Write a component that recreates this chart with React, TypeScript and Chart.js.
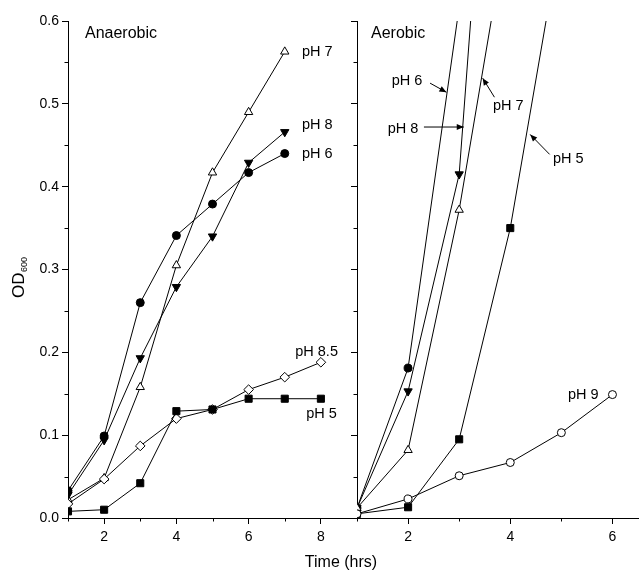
import React, { useEffect, useRef } from "react";
import { Chart, registerables } from "chart.js";

Chart.register(...registerables);

// ---------------- data ----------------
const anaerobicHours = [1, 2, 3, 4, 5, 6, 7, 8];
const anaerobicPH5 = [0.008, 0.01, 0.042, 0.129, 0.131, 0.144, 0.144, 0.144];
const anaerobicPH6 = [0.033, 0.099, 0.26, 0.341, 0.379, 0.417, 0.44];
const anaerobicPH7 = [0.022, 0.048, 0.158, 0.305, 0.417, 0.49, 0.563];
const anaerobicPH8 = [0.028, 0.094, 0.193, 0.279, 0.34, 0.429, 0.466];
const anaerobicPH85 = [0.017, 0.047, 0.087, 0.12, 0.131, 0.155, 0.17, 0.188];

const aerobicHours = [1, 2, 3, 4, 5, 6];
const aerobicPH5 = [0.005, 0.013, 0.095, 0.35, 0.707];
const aerobicPH6 = [0.012, 0.181, 0.617];
const aerobicPH7 = [0.012, 0.082, 0.372, 0.736];
const aerobicPH8 = [0.012, 0.153, 0.415, 1.24];
const aerobicPH9 = [0.005, 0.023, 0.051, 0.067, 0.103, 0.149];

const yTickValues = [0, 0.1, 0.2, 0.3, 0.4, 0.5, 0.6];
const yTickLabels = ["0.0", "0.1", "0.2", "0.3", "0.4", "0.5", "0.6"];
const yMinorValues = [0.05, 0.15, 0.25, 0.35, 0.45, 0.55];
const anaerobicXTicks = [2, 4, 6, 8];
const anaerobicXMinor = [1, 3, 5, 7];
const aerobicXTicks = [2, 4, 6];
const aerobicXMinor = [1, 3, 5];

// series labels (text, anchor in data units)
const anaerobicLabelText = ["pH 7", "pH 8", "pH 6", "pH 8.5", "pH 5"];
const anaerobicLabelX = [7.475, 7.475, 7.475, 7.29, 7.595];
const anaerobicLabelY = [0.563, 0.474, 0.439, 0.2, 0.126];

const aerobicLabelText = ["pH 6", "pH 8", "pH 7", "pH 5", "pH 9"];
const aerobicLabelX = [1.98, 1.9, 3.96, 5.135, 5.43];
const aerobicLabelY = [0.527, 0.47, 0.497, 0.433, 0.149];
// arrows: tail -> head in data units
const aerobicArrowX1 = [2.43, 2.31, 3.69, 4.77];
const aerobicArrowY1 = [0.525, 0.472, 0.508, 0.439];
const aerobicArrowX2 = [2.75, 3.09, 3.46, 4.39];
const aerobicArrowY2 = [0.514, 0.472, 0.531, 0.463];

const FONT = "'Liberation Sans', Arial, Helvetica, sans-serif";

type Series = {
  label: string;
  hours: number[];
  values: number[];
  style: string;
  filled: boolean;
  radius: number;
  rotation?: number;
};

const anaerobicSeries: Series[] = [
  { label: "pH 5", hours: anaerobicHours, values: anaerobicPH5, style: "rect", filled: true, radius: 5 },
  { label: "pH 8.5", hours: anaerobicHours, values: anaerobicPH85, style: "rectRot", filled: false, radius: 4.8 },
  { label: "pH 8", hours: anaerobicHours, values: anaerobicPH8, style: "triangle", filled: true, radius: 4.8, rotation: 180 },
  { label: "pH 7", hours: anaerobicHours, values: anaerobicPH7, style: "triangle", filled: false, radius: 4.8 },
  { label: "pH 6", hours: anaerobicHours, values: anaerobicPH6, style: "circle", filled: true, radius: 4 },
];

const aerobicSeries: Series[] = [
  { label: "pH 9", hours: aerobicHours, values: aerobicPH9, style: "circle", filled: false, radius: 4 },
  { label: "pH 5", hours: aerobicHours, values: aerobicPH5, style: "rect", filled: true, radius: 5 },
  { label: "pH 7", hours: aerobicHours, values: aerobicPH7, style: "triangle", filled: false, radius: 4.8 },
  { label: "pH 8", hours: aerobicHours, values: aerobicPH8, style: "triangle", filled: true, radius: 4.8, rotation: 180 },
  { label: "pH 6", hours: aerobicHours, values: aerobicPH6, style: "circle", filled: true, radius: 4 },
];

function toDatasets(series: Series[]) {
  return series.map((s) => ({
    label: s.label,
    data: s.values.map((v, i) => ({ x: s.hours[i], y: v })),
    borderColor: "#000",
    borderWidth: 1,
    pointStyle: s.style,
    pointRadius: s.radius,
    pointRotation: s.rotation || 0,
    pointBackgroundColor: s.filled ? "#000" : "#fff",
    pointBorderColor: "#000",
    pointBorderWidth: 1,
    tension: 0,
    fill: false,
  }));
}

function drawArrow(ctx: CanvasRenderingContext2D, x1: number, y1: number, x2: number, y2: number) {
  ctx.beginPath();
  ctx.moveTo(x1, y1);
  ctx.lineTo(x2, y2);
  ctx.stroke();
  const ang = Math.atan2(y2 - y1, x2 - x1);
  const L = 7;
  const W = 3;
  const bx = x2 - L * Math.cos(ang);
  const by = y2 - L * Math.sin(ang);
  ctx.beginPath();
  ctx.moveTo(x2, y2);
  ctx.lineTo(bx + W * Math.sin(ang), by - W * Math.cos(ang));
  ctx.lineTo(bx - W * Math.sin(ang), by + W * Math.cos(ang));
  ctx.closePath();
  ctx.fill();
}

type PanelOpts = {
  series: Series[];
  xMin: number;
  xMax: number;
  xTicks: number[];
  xMinor: number[];
  yAxisWidth: number;
  showYLabels: boolean;
  paddingRight: number;
  labelText: string[];
  labelX: number[];
  labelY: number[];
  labelAlign: CanvasTextAlign;
  title: string;
  titleX: number;
  arrows?: { x1: number[]; y1: number[]; x2: number[]; y2: number[] };
  extra?: (ctx: CanvasRenderingContext2D, chart: any) => void;
};

function buildConfig(o: PanelOpts): any {
  const decorPlugin = {
    id: "decor",
    afterDraw(chart: any) {
      const ctx: CanvasRenderingContext2D = chart.ctx;
      const xs = chart.scales.x;
      const ys = chart.scales.y;
      ctx.save();
      ctx.strokeStyle = "#000";
      ctx.fillStyle = "#000";
      ctx.lineWidth = 1;
      // minor ticks
      ctx.beginPath();
      for (const v of o.xMinor) {
        const px = Math.round(xs.getPixelForValue(v)) + 0.5;
        ctx.moveTo(px, ys.bottom);
        ctx.lineTo(px, ys.bottom + 3.5);
      }
      for (const v of yMinorValues) {
        const py = Math.round(ys.getPixelForValue(v)) + 0.5;
        ctx.moveTo(xs.left, py);
        ctx.lineTo(xs.left - 3.5, py);
      }
      ctx.stroke();
      // title
      ctx.font = `16px ${FONT}`;
      ctx.textAlign = "left";
      ctx.textBaseline = "middle";
      ctx.fillText(o.title, xs.getPixelForValue(o.titleX), ys.getPixelForValue(0.585));
      // series labels
      ctx.font = `14.5px ${FONT}`;
      ctx.textAlign = o.labelAlign;
      for (let i = 0; i < o.labelText.length; i++) {
        ctx.fillText(o.labelText[i], xs.getPixelForValue(o.labelX[i]), ys.getPixelForValue(o.labelY[i]));
      }
      if (o.arrows) {
        const a = o.arrows;
        for (let i = 0; i < a.x1.length; i++) {
          drawArrow(
            ctx,
            xs.getPixelForValue(a.x1[i]),
            ys.getPixelForValue(a.y1[i]),
            xs.getPixelForValue(a.x2[i]),
            ys.getPixelForValue(a.y2[i])
          );
        }
      }
      if (o.extra) o.extra(ctx, chart);
      ctx.restore();
    },
  };

  return {
    type: "line",
    data: { datasets: toDatasets(o.series) },
    options: {
      responsive: false,
      animation: false,
      events: [],
      layout: { padding: { top: 21, right: o.paddingRight, bottom: 0, left: 0 } },
      plugins: { legend: { display: false }, tooltip: { enabled: false } },
      scales: {
        x: {
          type: "linear",
          min: o.xMin,
          max: o.xMax,
          afterBuildTicks: (s: any) => {
            s.ticks = o.xTicks.map((v) => ({ value: v }));
          },
          afterFit: (s: any) => {
            s.height = 53;
          },
          ticks: {
            color: "#000",
            font: { family: FONT, size: 14 },
            padding: 5,
            maxRotation: 0,
            autoSkip: false,
            callback: (v: any) => String(v),
          },
          grid: { drawOnChartArea: false, drawTicks: true, tickLength: 6, color: "#000", tickColor: "#000" },
          border: { display: true, color: "#000", width: 1 },
        },
        y: {
          type: "linear",
          min: 0,
          max: 0.6,
          afterBuildTicks: (s: any) => {
            s.ticks = yTickValues.map((v) => ({ value: v }));
          },
          afterFit: (s: any) => {
            s.width = o.yAxisWidth;
          },
          ticks: {
            color: "#000",
            font: { family: FONT, size: 14 },
            padding: 3,
            autoSkip: false,
            callback: (_v: any, i: number) => (o.showYLabels ? yTickLabels[i] : ""),
          },
          grid: { drawOnChartArea: false, drawTicks: true, tickLength: 6, color: "#000", tickColor: "#000" },
          border: { display: true, color: "#000", width: 1 },
        },
      },
    },
    plugins: [decorPlugin],
  };
}

export default function App() {
  const leftRef = useRef<HTMLCanvasElement | null>(null);
  const rightRef = useRef<HTMLCanvasElement | null>(null);

  useEffect(() => {
    if (!leftRef.current || !rightRef.current) return;
    const left = new Chart(
      leftRef.current,
      buildConfig({
        series: anaerobicSeries,
        xMin: 1,
        xMax: 9,
        xTicks: anaerobicXTicks,
        xMinor: anaerobicXMinor,
        yAxisWidth: 68,
        showYLabels: true,
        paddingRight: 644 - 357,
        labelText: anaerobicLabelText,
        labelX: anaerobicLabelX,
        labelY: anaerobicLabelY,
        labelAlign: "left",
        title: "Anaerobic",
        titleX: 1.47,
        extra: (ctx) => {
          // y-axis title OD600 (rotated, with subscript)
          ctx.save();
          ctx.translate(24, 298);
          ctx.rotate(-Math.PI / 2);
          ctx.textAlign = "left";
          ctx.textBaseline = "alphabetic";
          ctx.font = `17px ${FONT}`;
          ctx.fillText("OD", 0, 0);
          const w = ctx.measureText("OD").width;
          ctx.font = `9px ${FONT}`;
          ctx.fillText("600", w + 0.5, 2.5);
          ctx.restore();
          // x-axis title
          ctx.font = `16px ${FONT}`;
          ctx.textAlign = "center";
          ctx.textBaseline = "alphabetic";
          ctx.fillText("Time (hrs)", 341, 567);
        },
      })
    );
    const right = new Chart(
      rightRef.current,
      buildConfig({
        series: aerobicSeries,
        xMin: 1,
        xMax: 6.5,
        xTicks: aerobicXTicks,
        xMinor: aerobicXMinor,
        yAxisWidth: 9,
        showYLabels: false,
        paddingRight: 0,
        labelText: aerobicLabelText,
        labelX: aerobicLabelX,
        labelY: aerobicLabelY,
        labelAlign: "center",
        title: "Aerobic",
        titleX: 1.275,
        arrows: { x1: aerobicArrowX1, y1: aerobicArrowY1, x2: aerobicArrowX2, y2: aerobicArrowY2 },
      })
    );
    return () => {
      left.destroy();
      right.destroy();
    };
  }, []);

  return (
    <div style={{ position: "absolute", left: 0, top: 0, width: 644, height: 571, background: "#fff" }}>
      <canvas ref={leftRef} width={644} height={571} style={{ position: "absolute", left: 0, top: 0 }} />
      <canvas ref={rightRef} width={296} height={571} style={{ position: "absolute", left: 348, top: 0 }} />
    </div>
  );
}
